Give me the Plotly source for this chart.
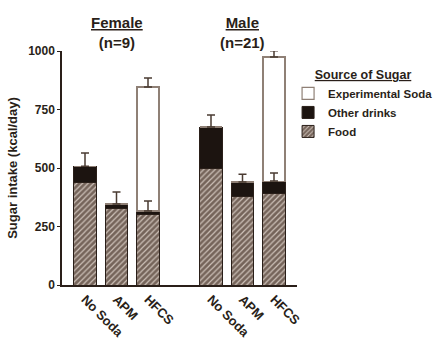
import plotly.graph_objects as go

# ---- data ----
categories = ["No Soda", "APM", "HFCS", "No Soda", "APM", "HFCS"]
positions = [0, 1, 2, 4, 5, 6]
groups = ["<u>Female</u><br>(n=9)", "<u>Male</u><br>(n=21)"]
group_centers = [1, 5]
food = [440, 329, 303, 496, 380, 389]
other_drinks = [68, 17, 13, 179, 60, 55]
exp_soda = [0, 0, 530, 0, 0, 530]
err_nonsoda = [56, 51, 43, 51, 33, 35]
err_soda = [0, 0, 39, 0, 0, 27]
y_ticks = [0, 250, 500, 750, 1000]

INK = "#2a1f19"
FONT = "Liberation Sans"

fig = go.Figure()

fig.add_trace(go.Bar(
    x=positions, y=food, name="Food", width=0.7,
    marker=dict(color="#75645a", line=dict(color=INK, width=1),
                pattern=dict(shape="/", fgcolor="#cdc1b8", bgcolor="#75645a",
                             size=4, solidity=0.3, fillmode="replace")),
))
fig.add_trace(go.Bar(
    x=positions, y=other_drinks, name="Other drinks", width=0.7,
    marker=dict(color="#1c1410", line=dict(color=INK, width=1)),
))
fig.add_trace(go.Bar(
    x=positions, y=exp_soda, name="Experimental Soda", width=0.7,
    marker=dict(color="#ffffff", line=dict(color="#8f8076", width=1.2)),
))

# error bars (upward only)
nonsoda_tot = [f + o for f, o in zip(food, other_drinks)]
fig.add_trace(go.Scatter(
    x=positions, y=nonsoda_tot, mode="markers", marker=dict(opacity=0),
    error_y=dict(type="data", symmetric=False, array=err_nonsoda,
                 arrayminus=[0] * len(positions), color="#4a3b32",
                 thickness=1.5, width=4),
    showlegend=False, hoverinfo="skip",
))
sx = [p for p, s in zip(positions, exp_soda) if s > 0]
sy = [n + s for n, s in zip(nonsoda_tot, exp_soda) if s > 0]
se = [e for e, s in zip(err_soda, exp_soda) if s > 0]
fig.add_trace(go.Scatter(
    x=sx, y=sy, mode="markers", marker=dict(opacity=0),
    error_y=dict(type="data", symmetric=False, array=se,
                 arrayminus=[0] * len(sx), color="#4a3b32",
                 thickness=1.5, width=4),
    showlegend=False, hoverinfo="skip",
))

for g, c in zip(groups, group_centers):
    fig.add_annotation(x=c, y=1.077, xref="x", yref="paper", text=g,
                       showarrow=False, yanchor="middle",
                       font=dict(family=FONT, size=15, color=INK, weight="bold"))

fig.update_layout(
    width=440, height=350,
    margin=dict(l=62, r=143, t=51, b=65, autoexpand=False),
    barmode="stack",
    plot_bgcolor="white", paper_bgcolor="white",
    font=dict(family=FONT, color=INK),
    legend=dict(
        title=dict(text="<u>Source of Sugar</u>", side="top center",
                   font=dict(family=FONT, size=12.5, color=INK, weight="bold")),
        font=dict(family=FONT, size=11.5, color=INK, weight="bold"),
        x=0.962, xanchor="left", y=0.95, yanchor="top",
        traceorder="reversed", bgcolor="rgba(0,0,0,0)",
    ),
    xaxis=dict(
        range=[-0.73, 6.73], tickvals=positions, ticktext=categories,
        tickangle=45, showline=True, linecolor=INK, linewidth=1.5,
        ticks="", showgrid=False, zeroline=False, automargin=False,
        tickfont=dict(family=FONT, size=13, color=INK, weight="bold"),
    ),
    yaxis=dict(
        range=[0, 1000], tickvals=y_ticks, showline=True, linecolor=INK,
        linewidth=1.5, ticks="outside", ticklen=3, tickcolor=INK,
        showgrid=False, zeroline=False, automargin=False,
        tickfont=dict(family=FONT, size=12, color=INK, weight="bold"),
        title=dict(text="Sugar intake (kcal/day)", standoff=8,
                   font=dict(family=FONT, size=13, color=INK, weight="bold")),
    ),
)

fig.write_html("out.html")
